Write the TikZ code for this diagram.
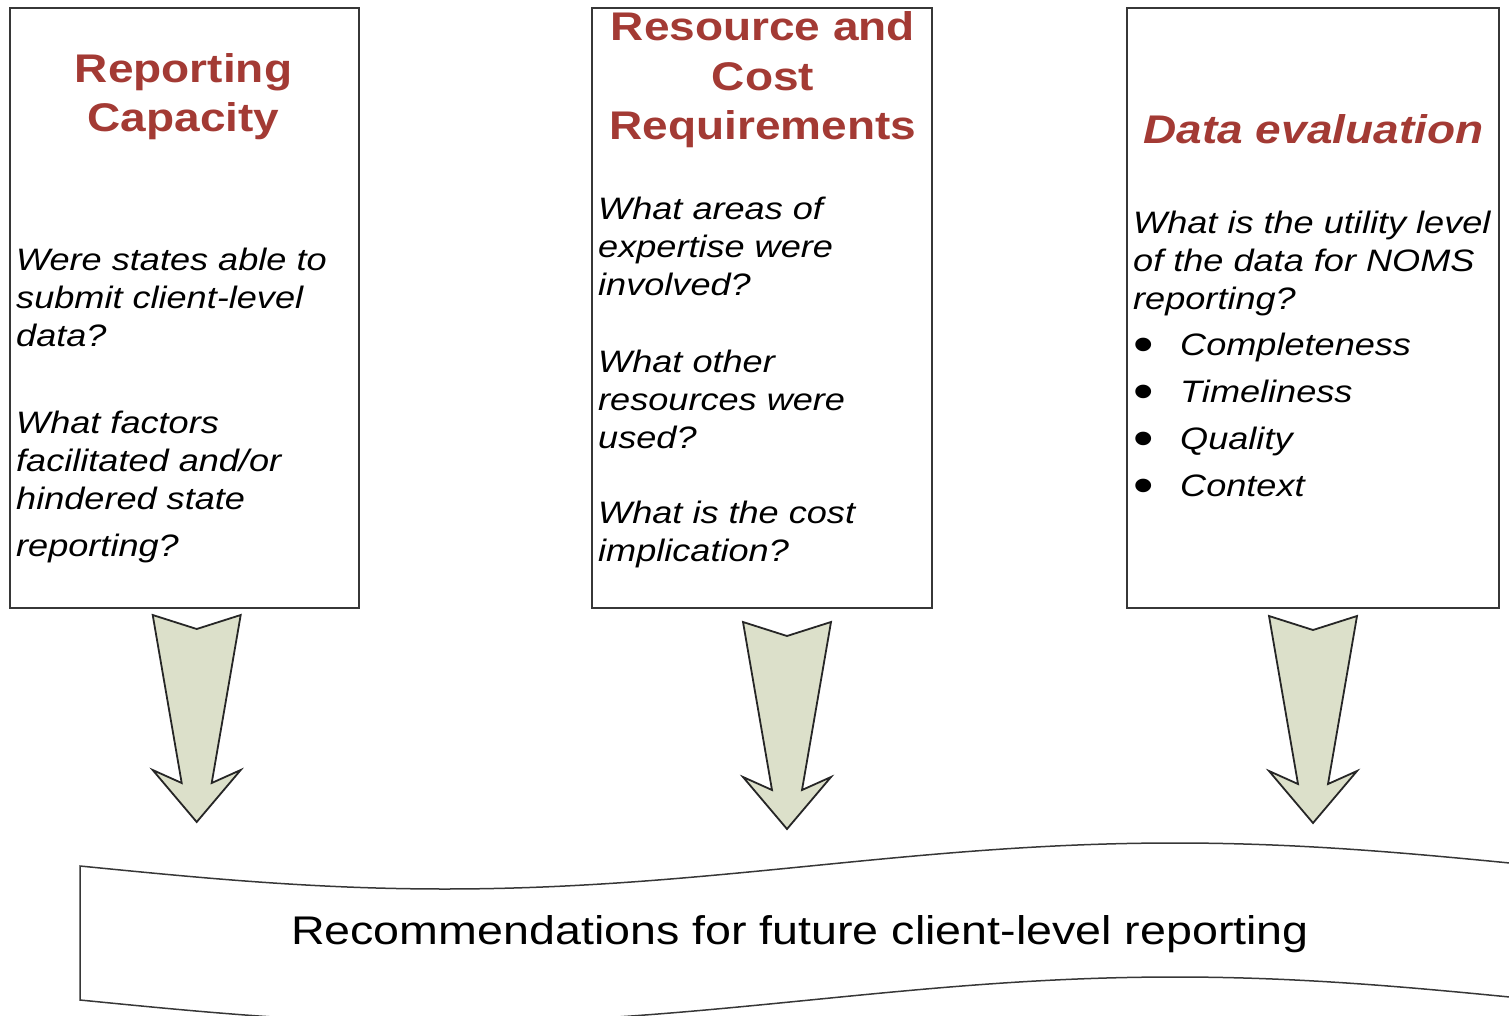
\documentclass[tikz,border=0pt]{standalone}
\usepackage{fontspec}
\setmainfont{Liberation Sans}
\newfontfamily\widesans[FakeStretch=1.15]{Liberation Sans}
\newfontfamily\bodysans[FakeStretch=1.165]{Liberation Sans}
\newfontfamily\bannersans[FakeStretch=1.165]{Liberation Sans}
\definecolor{titlered}{RGB}{163,58,52}
\definecolor{arrowfill}{RGB}{220,224,202}
\definecolor{frame}{RGB}{55,55,55}
\newcommand{\dotmark}{\makebox[47pt][l]{\raisebox{-6pt}{\upshape\fontsize{50}{38}\selectfont•}}}

\begin{document}
\begin{tikzpicture}[x=1pt,y=-1pt,
  panel/.style={draw=frame, line width=1.6pt, rectangle, inner sep=0pt},
  heading/.style={font=\widesans\bfseries\fontsize{40}{49.5}\selectfont,
    text=titlered, align=center, inner sep=0pt, anchor=base},
  question/.style={font=\bodysans\itshape\fontsize{31}{38}\selectfont,
    align=left, inner sep=0pt, anchor=base west},
  bannertext/.style={font=\bannersans\fontsize{40}{48}\selectfont,
    inner sep=0pt, anchor=base},
  pics/downarrow/.style={code={
    \draw[fill=arrowfill, draw=black!85, line width=1.8pt, line join=miter]
      (-44,0) -- (0,14) -- (44,0) -- (15,168) -- (44,155) -- (0,207)
      -- (-44,155) -- (-15,168) -- cycle;}}
]
\useasboundingbox (0,0) rectangle (1509,1016);
\clip (0,0) rectangle (1509,1016);

% three question panels
\node[panel, minimum width=349pt, minimum height=600pt] (capacity) at (184.5,308) {};
\node[panel, minimum width=340pt, minimum height=600pt] (resources) at (762,308) {};
\node[panel, minimum width=372pt, minimum height=600pt] (evaluation) at (1313,308) {};

% panel headings (placed by the baseline of their last line)
\node[heading] (capT) at (183.5,132) {Reporting\\Capacity};
\node[heading] (resT) at (763,140) {Resource and\\Cost\\Requirements};
\node[heading, font=\widesans\bfseries\itshape\fontsize{40}{48.5}\selectfont] (evaT) at (1313.5,144) {Data evaluation};

% panel questions (placed by the baseline of their last line)
\node[question] (capQ) at (16,556) {Were states able to\\submit client-level\\data?\\[49pt]What factors\\facilitated and/or\\hindered state\\[9pt]reporting?};
\node[question] (resQ) at (598,561) {What areas of\\expertise were\\involved?\\[39pt]What other\\resources were\\used?\\[37pt]What is the cost\\implication?};
\node[question] (evaQ) at (1133,496) {What is the utility level\\of the data for NOMS\\reporting?\\[8pt]%
\dotmark Completeness\\[9pt]%
\dotmark Timeliness\\[9pt]%
\dotmark Quality\\[9pt]%
\dotmark Context};

% block arrows down to the banner
\pic at (196.7,615) {downarrow};
\pic at (787,622) {downarrow};
\pic at (1313,616) {downarrow};

% wavy banner (one full sine period, 1460pt long)
\draw[draw=frame, line width=1.5pt, line join=miter]
  (80,1000) -- (80,866)
  -- plot[domain=80:1540, samples=90, smooth] (\x,{866+23*sin(0.246575*(\x-80))})
  -- (1540,1000)
  -- plot[domain=1540:80, samples=90, smooth] (\x,{1000+23*sin(0.246575*(\x-80))})
  -- cycle;
\node[bannertext] (rec) at (800,944) {Recommendations for future client-level reporting};
\end{tikzpicture}
\end{document}
